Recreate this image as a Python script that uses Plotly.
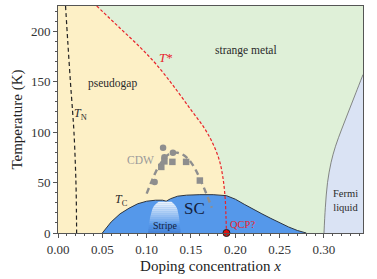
import numpy as np
import plotly.graph_objects as go

# ---------------- data ----------------
tstar_x = [0.0437, 0.07, 0.0927, 0.11, 0.13, 0.15, 0.165, 0.175, 0.182, 0.186, 0.1885, 0.1895, 0.19]
tstar_T = [225, 203, 184, 168, 146, 122, 104, 88, 72, 55, 35, 15, 0]

tn_x = [0.0085, 0.011, 0.014, 0.0165, 0.018, 0.0195, 0.0205, 0.021]
tn_T = [225, 190, 150, 120, 100, 70, 40, 0]

tc_x = [0.05, 0.055, 0.06, 0.07, 0.08, 0.09, 0.10, 0.11, 0.118, 0.122, 0.127, 0.135, 0.145,
        0.16, 0.175, 0.19, 0.20, 0.21, 0.22, 0.23, 0.24, 0.25, 0.26, 0.27, 0.28]
tc_T = [0, 6, 11, 19, 24.5, 29, 31.5, 32.5, 32.5, 31.5, 34, 36.5, 37.5,
        38, 38, 37, 33.5, 28.5, 23.5, 19, 14.5, 10, 6, 2.5, 0]

fl_x = [0.30, 0.3015, 0.304, 0.308, 0.313, 0.32, 0.328, 0.336, 0.344]
fl_T = [0, 25, 50, 70, 86, 103, 121, 139, 157]

cdw_x = [0.100, 0.105, 0.11, 0.115, 0.12, 0.125, 0.13, 0.135, 0.14, 0.145, 0.15, 0.155, 0.16, 0.165, 0.17, 0.1735]
cdw_T = [39, 50, 60, 68, 74, 78, 79.5, 79.5, 78, 75, 70, 63, 54, 44, 33, 25]

cdw_circ_x = [0.109, 0.1185, 0.1296, 0.120]
cdw_circ_T = [50.5, 84.5, 79.5, 75]
cdw_sq_x = [0.1165, 0.120, 0.129, 0.1445, 0.160]
cdw_sq_T = [65.5, 71, 70.5, 70.5, 52]

stripe_T = [0, 8, 16, 24, 28, 31]
stripe_xl = [0.1015, 0.1025, 0.104, 0.1065, 0.109, 0.1135]
stripe_xr = [0.1385, 0.1375, 0.1365, 0.1345, 0.132, 0.128]

qcp_x = [0.19]
qcp_T = [0]

X_MAX = 0.344
T_MAX = 225

# ---------------- colours ----------------
C_GREEN = "#dff0d8"
C_YELLOW = "#fdf0c6"
C_FL = "#dae3f4"
C_SC = "#5598ea"
C_RED = "#e8232a"
FONT = "Liberation Serif"

fig = go.Figure()

# pseudogap region (left of T*)
fig.add_trace(go.Scatter(
    x=[0, 0] + tstar_x + [0], y=[0, T_MAX] + tstar_T + [0],
    fill="toself", fillcolor=C_YELLOW, line=dict(width=0), mode="lines",
    hoverinfo="skip"))

# Fermi liquid region
fig.add_trace(go.Scatter(
    x=fl_x + [X_MAX, fl_x[0]], y=fl_T + [0, 0],
    fill="toself", fillcolor=C_FL, line=dict(width=0), mode="lines",
    hoverinfo="skip"))
fig.add_trace(go.Scatter(
    x=fl_x, y=fl_T, mode="lines", line=dict(color="#6b6b6b", width=0.8, shape="spline"),
    hoverinfo="skip"))

# SC dome
fig.add_trace(go.Scatter(
    x=tc_x, y=tc_T, fill="toself", fillcolor=C_SC,
    line=dict(color="#2d3540", width=1), mode="lines", hoverinfo="skip"))

# stripe gradient (bands)
edges = np.linspace(0, stripe_T[-1], 17)
for lo, hi in zip(edges[:-1], edges[1:]):
    m = 0.5 * (lo + hi)
    if m >= 8:
        col = "rgba(255,255,255,%.3f)" % (0.92 * ((m - 8) / (stripe_T[-1] - 8)) ** 0.9)
    else:
        col = "rgba(35,80,170,%.3f)" % (0.28 * (1 - m / 8))
    xl_lo, xl_hi = np.interp([lo, hi], stripe_T, stripe_xl)
    xr_lo, xr_hi = np.interp([lo, hi], stripe_T, stripe_xr)
    fig.add_trace(go.Scatter(
        x=[xl_lo, xl_hi, xr_hi, xr_lo, xl_lo], y=[lo, hi, hi, lo, lo],
        fill="toself", fillcolor=col, line=dict(width=0), mode="lines",
        hoverinfo="skip"))

# T* line
fig.add_trace(go.Scatter(
    x=tstar_x, y=tstar_T, mode="lines",
    line=dict(color=C_RED, width=1.2, dash="3px,2px", shape="spline"),
    hoverinfo="skip"))

# T_N line
fig.add_trace(go.Scatter(
    x=tn_x, y=tn_T, mode="lines",
    line=dict(color="#222222", width=1.2, dash="4px,3px", shape="spline"),
    hoverinfo="skip"))

# CDW arc
fig.add_trace(go.Scatter(
    x=cdw_x, y=cdw_T, mode="lines",
    line=dict(color="#8e8e8e", width=2.4, dash="6px,4px", shape="spline"),
    hoverinfo="skip"))
fig.add_trace(go.Scatter(
    x=cdw_circ_x, y=cdw_circ_T, mode="markers",
    marker=dict(symbol="circle", size=6.5, color="#8e8e8e"), hoverinfo="skip"))
fig.add_trace(go.Scatter(
    x=cdw_sq_x, y=cdw_sq_T, mode="markers",
    marker=dict(symbol="square", size=6.5, color="#8e8e8e"), hoverinfo="skip"))

# QCP marker
fig.add_trace(go.Scatter(
    x=qcp_x, y=qcp_T, mode="markers", cliponaxis=False,
    marker=dict(symbol="circle", size=7, color="#e01010",
                line=dict(color="#222", width=1)), hoverinfo="skip"))

# ---------------- labels ----------------
def label(x, y, text, size=11, color="#2a2a2a", **kw):
    fig.add_annotation(x=x, y=y, xref="x", yref="y", text=text, showarrow=False,
                       font=dict(family=FONT, size=size, color=color), **kw)

label(0.0615, 148, "pseudogap", 11.5)
label(0.2125, 181, "strange metal", 11.5)
label(0.1215, 174, "<i>T</i>*", 13, C_RED)
label(0.0255, 118, "<i>T</i><sub>N</sub>", 12)
label(0.0715, 33, "<i>T</i><sub>C</sub>", 12)
label(0.0935, 72.5, "CDW", 11.5, "#9a9a9a")
label(0.1535, 24, "SC", 17, "#14213d")
label(0.1205, 7, "Stripe", 10, "#14213d")
label(0.2085, 8.5, "QCP?", 10.5, C_RED)
label(0.3243, 32, "Fermi<br>liquid", 10.5, "#2a2a2a")

axis_common = dict(
    showline=True, linecolor="#555555", linewidth=1, mirror=True,
    ticks="outside", ticklen=4, tickcolor="#555555", tickwidth=1,
    showgrid=False, zeroline=False, automargin=False,
    tickfont=dict(family=FONT, size=13, color="#333333"),
)

fig.update_xaxes(
    range=[0, X_MAX], tickvals=[0, 0.05, 0.10, 0.15, 0.20, 0.25, 0.30],
    ticktext=["0.00", "0.05", "0.10", "0.15", "0.20", "0.25", "0.30"],
    minor=dict(dtick=0.01, ticks="outside", ticklen=2, tickcolor="#555555"),
    title=dict(text="Doping concentration <i>x</i>",
               font=dict(family=FONT, size=15, color="#222222"), standoff=4),
    **axis_common)
fig.update_yaxes(
    range=[0, T_MAX], tickvals=[0, 50, 100, 150, 200],
    minor=dict(dtick=10, ticks="outside", ticklen=2, tickcolor="#555555"),
    title=dict(text="Temperature (K)",
               font=dict(family=FONT, size=15, color="#222222"), standoff=4),
    **axis_common)

fig.update_layout(
    width=377, height=279,
    margin=dict(l=58, r=14, t=6, b=46),
    plot_bgcolor=C_GREEN, paper_bgcolor="white",
    showlegend=False,
)

fig.write_html("out.html", config={"displayModeBar": False},
               post_script="document.body.style.margin='0';document.body.style.padding='0';")
